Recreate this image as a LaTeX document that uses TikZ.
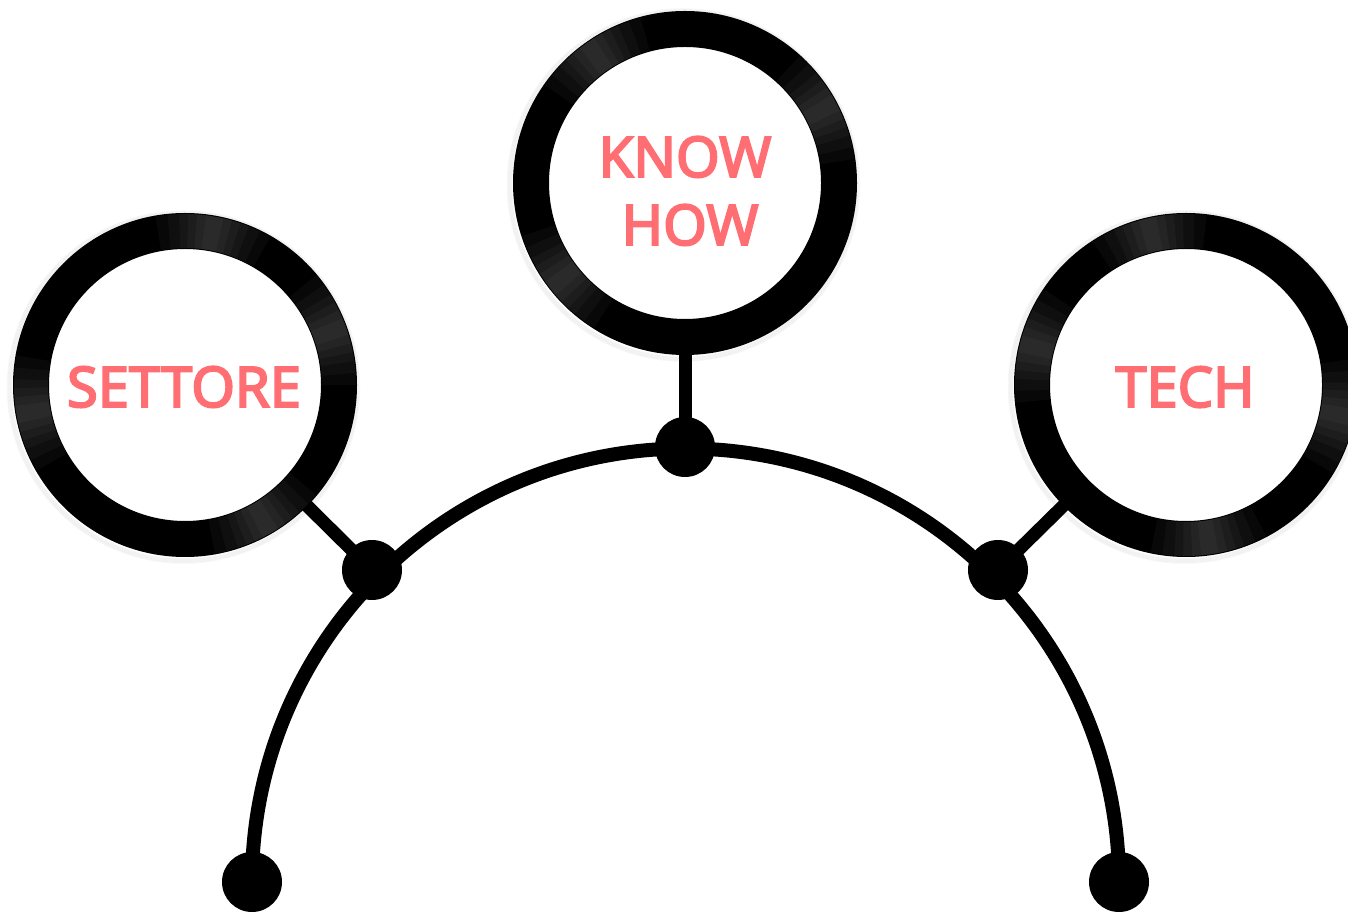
\documentclass[tikz,border=0pt]{standalone}
\usepackage{fontspec}
\setmainfont{Noto Sans}
\newfontfamily\lblfont{Noto Sans}[FakeBold=3.5]
\usetikzlibrary{backgrounds}
\definecolor{pinktxt}{RGB}{255,110,115}
\begin{document}
\begin{tikzpicture}[x=1pt,y=1pt,
  ring/.style={circle, draw=black, line width=36pt, fill=white, minimum size=308pt, inner sep=0pt, outer sep=0pt},
  dot/.style={circle, fill=black, minimum size=60pt, inner sep=0pt, outer sep=0pt},
  link/.style={line width=13pt},
  arcline/.style={line width=14pt},
  txt/.style={text=pinktxt, font=\lblfont\fontsize{56}{68}\selectfont, inner sep=0pt, anchor=base},
  glint/.style={white, opacity=0.03, line width=34pt},
  shade/.style={black, opacity=0.03, line width=1.5pt}]
\useasboundingbox (0,0) rectangle (1348,913);
% dots
\node[dot] (eL) at (252,31) {};
\node[dot] (eR) at (1119,31) {};
\node[dot] (dL) at (372,343) {};
\node[dot] (dT) at (685,466) {};
\node[dot] (dR) at (998,343) {};
% rings
\node[ring] (cL) at (185,528) {};
\node[ring] (cT) at (685,730) {};
\node[ring] (cR) at (1186,528) {};
% texts
\node[txt] (tS) at (184,506) {SETTORE};
\node[txt] (tK) at (685,736) {KNOW};
\node[txt] (tH) at (690,668) {HOW};
\node[txt] (tT) at (1185,506) {TECH};
% glints on the rings
\foreach \c/\a in {cT/28, cT/218, cT/125, cR/103, cR/-11, cR/-82, cR/166, cL/80, cL/190, cL/-60, cL/20} {
  \foreach \w in {3,6,9,12,16,20} {
    \pgfmathsetmacro\s{\a-\w}
    \pgfmathsetmacro\e{\a+\w}
    \draw[glint] (\c.center) ++(\s:154) arc[start angle=\s, end angle=\e, radius=154];
  }
}
\begin{pgfonlayer}{background}
  \fill[white] (0,0) rectangle (1348,913);
  \foreach \c in {cL,cT,cR} {
    \foreach \r in {1,...,5} {
      \draw[shade] ([shift={(-1.5,-2)}]\c.center) circle[radius=171+\r];
    }
  }
  \draw[link] (cL.center) -- (dL.center);
  \draw[link] (cT.center) -- (dT.center);
  \draw[link] (cR.center) -- (dR.center);
  \draw[arcline] (eL.center) arc[start angle=180, end angle=0, radius=433.5];
\end{pgfonlayer}
\end{tikzpicture}
\end{document}
